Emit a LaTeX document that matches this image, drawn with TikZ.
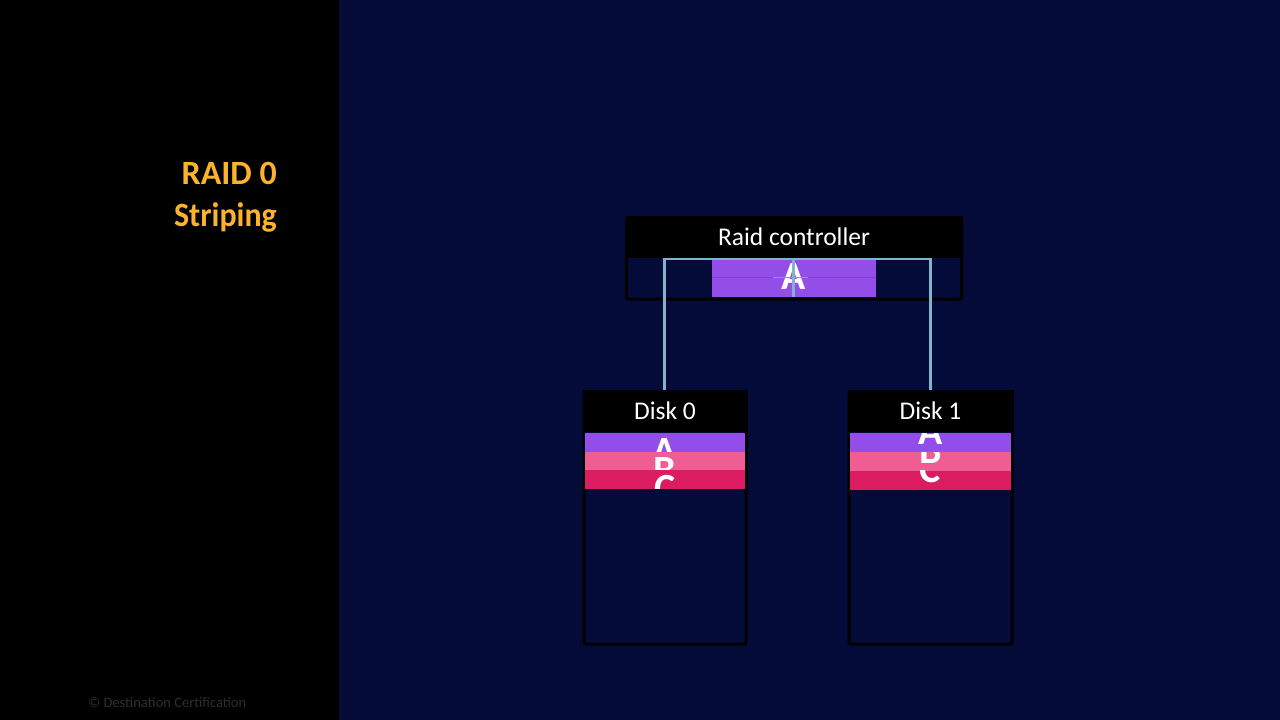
\documentclass[tikz,border=0pt]{standalone}
\usepackage{fontspec}
\setmainfont{Carlito}
\definecolor{navy}{HTML}{040B38}
\definecolor{amber}{HTML}{FDB22B}
\definecolor{violet}{HTML}{934DE9}
\definecolor{rose}{HTML}{F05D92}
\definecolor{crimson}{HTML}{DB1C60}
\definecolor{wirecol}{HTML}{7FB4CB}
\definecolor{seam}{HTML}{7F3FC8}
\tikzset{
    head/.style={fill=black, text=white, inner sep=0pt, minimum height=42pt, font=\fontsize{25.5}{25.5}\selectfont},
    shell/.style={draw=black, line width=3pt, rounded corners=2pt, inner sep=0pt},
    stripe/.style={inner sep=0pt, minimum width=160.5pt},
    wire/.style={draw=wirecol, line width=2.6pt},
    title/.style={text=amber, anchor=base east, inner sep=0pt, font=\fontsize{34}{34}\selectfont\bfseries},
    letter/.style={text=white, anchor=base, inner sep=0pt, font=\fontsize{40}{40}\selectfont\bfseries}
}
% one stripe with its clipped letter: name, colour, centre x, top, bottom, letter, letter base
\newcommand{\stripecell}[7]{
    \node[stripe, fill=#2, minimum height=#5pt-#4pt, anchor=north] (#1) at (#3,#4) {};
    \begin{scope}
        \clip (#3-80,#4) rectangle (#3+80,#5);
        \node[letter] (#1text) at (#3,#7) {#6};
    \end{scope}
}
\begin{document}
\begin{tikzpicture}[x=1pt, y=-1pt]
    \useasboundingbox (0,0) rectangle (1280,720);
    \fill[navy] (0,0) rectangle (1280,720);
    \fill[black] (0,0) rectangle (338.5,720);

    \node[title] (raid) at (277,184) {RAID 0};
    \node[title] (striping) at (277,226.5) {\addfontfeature{FakeStretch=0.94}Striping};
    \node[anchor=base west, inner sep=0pt, text=black!82!white, font=\fontsize{14.5}{14.5}\selectfont] (copy) at (88,707.5) {© Destination Certification};

    % controller
    \node[shell, minimum width=335pt, minimum height=80pt, anchor=north] (ctrl) at (794,217.5) {};
    \node[head, minimum width=337pt, anchor=north] (ctrlhead) at (794,216) {Raid controller};
    \node[fill=violet, inner sep=0pt, minimum width=164pt, minimum height=38pt, anchor=north] (ctrlstripe) at (793.5,259) {};
    \node[letter] (ctrlA) at (793.5,289) {A};
    \draw[seam, line width=0.7pt] (712,277) -- (875,277);
    \draw[white, opacity=.35, line width=0.7pt] (773,277) -- (808,277);

    % disks
    \node[shell, minimum width=162pt, minimum height=251pt, anchor=north] (disk0) at (665,391.5) {};
    \node[head, minimum width=165pt, anchor=north] (disk0head) at (665,390) {Disk 0};
    \node[shell, minimum width=163pt, minimum height=251pt, anchor=north] (disk1) at (930.5,391.5) {};
    \node[head, minimum width=166pt, anchor=north] (disk1head) at (930.5,390) {Disk 1};

    \stripecell{zeroA}{violet}{665}{433}{452}{A}{464}
    \stripecell{zeroB}{rose}{665}{452}{470}{B}{483}
    \stripecell{zeroC}{crimson}{665}{470}{488.5}{C}{501}
    \stripecell{oneA}{violet}{930.5}{433}{452}{A}{444}
    \stripecell{oneB}{rose}{930.5}{452}{470.5}{B}{463}
    \stripecell{oneC}{crimson}{930.5}{470.5}{490}{C}{482}

    % bus between controller and disks
    \coordinate (busleft) at (664.5,259);
    \coordinate (busmid) at (793.5,259);
    \coordinate (busright) at (930.5,259);
    \draw[wire] (disk0head.north -| busleft) -- (busleft) -- (busright) -- (disk1head.north -| busright);
    \draw[wire] (busmid) -- (ctrlstripe.south -| busmid);
\end{tikzpicture}
\end{document}
